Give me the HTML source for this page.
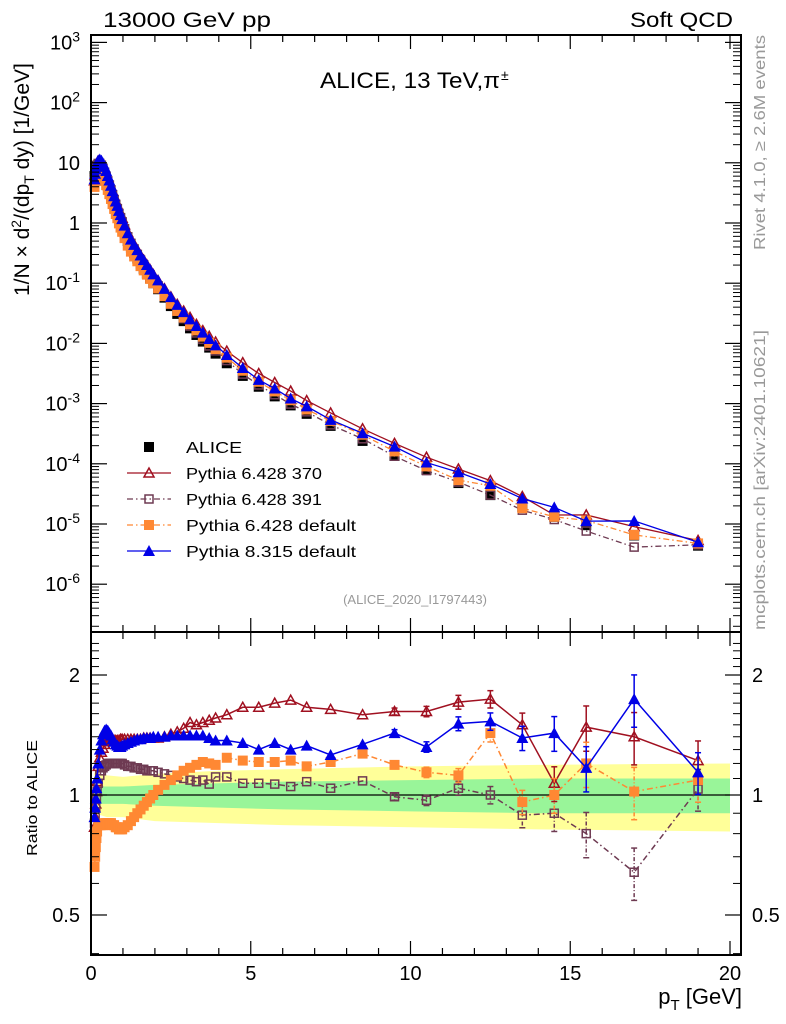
<!DOCTYPE html>
<html><head><meta charset="utf-8"><style>
html,body{margin:0;padding:0;background:#fff;}
svg{display:block;font-family:"Liberation Sans",sans-serif;}
</style></head><body>
<svg id="chart" width="786" height="1024" viewBox="0 0 786 1024" xmlns="http://www.w3.org/2000/svg">
<g id="bands"></g>
<g id="series"></g>
<g id="axes"></g>
<text x="103" y="27" font-size="21" textLength="168" lengthAdjust="spacingAndGlyphs">13000 GeV pp</text>
<text x="630" y="27" font-size="21" textLength="103" lengthAdjust="spacingAndGlyphs">Soft QCD</text>
<text x="320" y="88" font-size="22" textLength="180" lengthAdjust="spacingAndGlyphs">ALICE, 13 TeV,π</text>
<text x="501" y="80" font-size="14">±</text>
<text x="415" y="604" font-size="13" fill="#999" text-anchor="middle">(ALICE_2020_I1797443)</text>
<text transform="translate(765,250) rotate(-90)" font-size="16" fill="#999" textLength="215" lengthAdjust="spacingAndGlyphs">Rivet 4.1.0, ≥ 2.6M events</text>
<text transform="translate(765,630) rotate(-90)" font-size="16" fill="#999" textLength="300" lengthAdjust="spacingAndGlyphs">mcplots.cern.ch [arXiv:2401.10621]</text>
<text transform="translate(29,296) rotate(-90)" font-size="21">1/N × d<tspan font-size="14" dy="-8">2</tspan><tspan dy="8">/(dp</tspan><tspan font-size="14" dy="5">T</tspan><tspan dy="-5"> dy) [1/GeV]</tspan></text>
<text transform="translate(37,856) rotate(-90)" font-size="15" textLength="116" lengthAdjust="spacingAndGlyphs">Ratio to ALICE</text>
<text x="742" y="1004" font-size="22" text-anchor="end">p<tspan font-size="15" dy="6">T</tspan><tspan dy="-6"> [GeV]</tspan></text>
<g id="legend"></g>
</svg>
<script>
const pT=[0.11,0.13,0.15,0.17,0.19,0.225,0.275,0.325,0.375,0.425,0.475,0.525,0.575,0.625,0.675,0.725,0.775,0.825,0.875,0.925,0.975,1.05,1.15,1.25,1.35,1.45,1.55,1.65,1.75,1.85,1.95,2.1,2.3,2.5,2.7,2.9,3.1,3.3,3.5,3.7,3.9,4.25,4.75,5.25,5.75,6.25,6.75,7.5,8.5,9.5,10.5,11.5,12.5,13.5,14.5,15.5,17,19];
const aliceLog=[0.78,0.85,0.9,0.93,0.95,0.96,0.94,0.9,0.84,0.77,0.7,0.62,0.55,0.47,0.39,0.31,0.23,0.16,0.08,0.01,-0.06,-0.17,-0.3,-0.41,-0.5,-0.59,-0.68,-0.76,-0.84,-0.92,-1.0,-1.1,-1.24,-1.38,-1.51,-1.63,-1.75,-1.86,-1.97,-2.07,-2.17,-2.33,-2.54,-2.72,-2.88,-3.03,-3.17,-3.37,-3.62,-3.87,-4.1,-4.32,-4.52,-4.72,-4.88,-5.02,-5.19,-5.36];
const r370=[0.83,0.88,0.95,1.02,1.08,1.18,1.24,1.28,1.31,1.34,1.36,1.37,1.38,1.38,1.38,1.37,1.37,1.37,1.37,1.38,1.38,1.38,1.38,1.38,1.38,1.38,1.38,1.39,1.39,1.39,1.39,1.39,1.40,1.42,1.44,1.47,1.52,1.50,1.52,1.54,1.56,1.59,1.66,1.66,1.70,1.73,1.66,1.64,1.59,1.62,1.62,1.71,1.74,1.50,1.07,1.48,1.40,1.22];
const r391=[0.85,0.89,0.93,0.98,1.02,1.07,1.12,1.15,1.17,1.18,1.19,1.20,1.20,1.20,1.20,1.20,1.20,1.20,1.20,1.20,1.20,1.19,1.18,1.18,1.17,1.17,1.16,1.16,1.15,1.15,1.15,1.14,1.13,1.12,1.11,1.10,1.09,1.08,1.09,1.065,1.11,1.11,1.07,1.07,1.065,1.05,1.08,1.04,1.085,0.99,0.97,1.04,1.0,0.89,0.90,0.80,0.64,1.035];
const rDef6=[0.66,0.70,0.74,0.78,0.81,0.84,0.84,0.84,0.84,0.85,0.85,0.85,0.85,0.85,0.84,0.84,0.83,0.83,0.82,0.82,0.82,0.83,0.84,0.86,0.88,0.90,0.92,0.94,0.96,0.98,1.00,1.03,1.06,1.09,1.12,1.15,1.17,1.19,1.21,1.20,1.19,1.24,1.22,1.21,1.21,1.22,1.18,1.21,1.27,1.19,1.14,1.12,1.43,0.96,1.0,1.2,1.02,1.09];
const r8=[0.88,0.93,0.98,1.04,1.10,1.2,1.3,1.37,1.42,1.45,1.46,1.45,1.43,1.41,1.38,1.36,1.34,1.33,1.32,1.32,1.33,1.34,1.35,1.36,1.37,1.38,1.38,1.39,1.39,1.39,1.40,1.40,1.40,1.41,1.41,1.41,1.41,1.41,1.41,1.39,1.37,1.37,1.35,1.30,1.35,1.30,1.33,1.26,1.34,1.43,1.32,1.51,1.53,1.39,1.43,1.17,1.74,1.14];
const eHigh=[0.02,0.03,0.04,0.05,0.07,0.10,0.13,0.15,0.12];
const bandPt=[0.1,0.5,1,2,4,6,10,14,20];
const yUp=[1.14,1.12,1.11,1.13,1.15,1.16,1.18,1.19,1.20];
const yDn=[0.90,0.88,0.88,0.86,0.85,0.84,0.83,0.82,0.81];
const gUp=[1.05,1.05,1.05,1.06,1.07,1.08,1.09,1.10,1.10];
const gDn=[0.95,0.95,0.95,0.94,0.93,0.92,0.91,0.90,0.90];

const NS="http://www.w3.org/2000/svg";
const X0=91,X1=741,TOP=35,MID=632,BOT=955;
const xs=v=>X0+v*31.95;
const ys=lv=>223-lv*60.2;
const yr=r=>795-398.6*Math.log10(r);
function mk(tag,attrs,parent){const e=document.createElementNS(NS,tag);for(const k in attrs)e.setAttribute(k,attrs[k]);parent.appendChild(e);return e;}
const axes=document.getElementById('axes'),series=document.getElementById('series'),bands=document.getElementById('bands');

function band(up,dn,col,name){
  let pts=bandPt.map((p,i)=>xs(p)+','+yr(up[i]));
  pts=pts.concat(bandPt.map((p,i)=>xs(p)+','+yr(dn[i])).reverse());
  const e=mk('polygon',{points:pts.join(' '),fill:col},bands);
  
  
}
band(yUp,yDn,'#ffff99','syst-band');
band(gUp,gDn,'#99f599','stat-band');
const one=mk('line',{x1:X0,x2:xs(20),y1:yr(1),y2:yr(1),stroke:'#000','stroke-width':1.3},bands);



const f1=mk('rect',{x:X0,y:TOP,width:X1-X0,height:MID-TOP,fill:'none',stroke:'#000','stroke-width':2},axes);


const f2=mk('rect',{x:X0,y:MID,width:X1-X0,height:BOT-MID,fill:'none',stroke:'#000','stroke-width':2},axes);



for(let v=0;v<=20.5;v+=1){
  const x=xs(v),L=(v%5===0)?14:7;
  [[TOP,1],[MID,-1],[MID,1],[BOT,-1]].forEach(([y,d])=>mk('line',{x1:x,x2:x,y1:y,y2:y+d*L,stroke:'#000','stroke-width':1.2},axes));
  if(v%5===0){const t=mk('text',{x:x,y:980,'font-size':20,'text-anchor':'middle'},axes);t.textContent=v;
    
    }
}
const decLabels=['10^3','10^2','10','1','10^-1','10^-2','10^-3','10^-4','10^-5','10^-6'];
const decVals=[3,2,1,0,-1,-2,-3,-4,-5,-6];
decVals.forEach((d,i)=>{
  const y=ys(d);
  mk('line',{x1:X0,x2:X0+16,y1:y,y2:y,stroke:'#000','stroke-width':1.2},axes);
  mk('line',{x1:X1,x2:X1-16,y1:y,y2:y,stroke:'#000','stroke-width':1.2},axes);
  for(let m=2;m<=9;m++){const yy=ys(d-1+Math.log10(m));if(yy<MID&&yy>TOP){
    mk('line',{x1:X0,x2:X0+8,y1:yy,y2:yy,stroke:'#000','stroke-width':1},axes);
    mk('line',{x1:X1,x2:X1-8,y1:yy,y2:yy,stroke:'#000','stroke-width':1},axes);}}
  const lab=decLabels[i];const t=mk('text',{x:80,y:y+7,'font-size':20,'text-anchor':'end'},axes);
  
  
  if(lab.indexOf('^')>0){const [b,e]=lab.split('^');
    const s1=mk('tspan',{},t);s1.textContent=b;const s2=mk('tspan',{'font-size':14,dy:-8},t);s2.textContent=e;}
  else t.textContent=lab;
});
const rTicks=[0.5,1,2],rLab=['0.5','1','2'];
rTicks.forEach((r,i)=>{const y=yr(r);
  mk('line',{x1:X0,x2:X0+16,y1:y,y2:y,stroke:'#000','stroke-width':1.2},axes);
  mk('line',{x1:X1,x2:X1-16,y1:y,y2:y,stroke:'#000','stroke-width':1.2},axes);
  const t=mk('text',{x:80,y:y+7,'font-size':20,'text-anchor':'end'},axes);t.textContent=rLab[i];
  
  
  const t2=mk('text',{x:752,y:y+7,'font-size':20},axes);t2.textContent=rLab[i];
  
  
});
for(let r=0.4;r<2.5;r+=0.1){const rr=Math.round(r*10)/10;if([0.5,1,2].includes(rr))continue;const y=yr(rr);if(y<MID||y>BOT)continue;
  mk('line',{x1:X0,x2:X0+8,y1:y,y2:y,stroke:'#000','stroke-width':1},axes);
  mk('line',{x1:X1,x2:X1-8,y1:y,y2:y,stroke:'#000','stroke-width':1},axes);}

function marker(type,x,y,col,g,s){
  s=s||5;
  if(type==='fsq')return mk('rect',{x:x-s,y:y-s,width:2*s,height:2*s,fill:col},g);
  if(type==='osq')return mk('rect',{x:x-s+1,y:y-s+1,width:2*s-2,height:2*s-2,fill:'none',stroke:col,'stroke-width':1.5},g);
  if(type==='ftri')return mk('polygon',{points:`${x},${y-s-1} ${x-s-1},${y+s} ${x+s+1},${y+s}`,fill:col},g);
  if(type==='otri')return mk('polygon',{points:`${x},${y-s} ${x-s},${y+s-1} ${x+s},${y+s-1}`,fill:'none',stroke:col,'stroke-width':1.5},g);
}
const defs=[
  {name:'pythia6-370',r:r370,col:'#a01020',m:'otri',dash:''},
  {name:'pythia6-391',r:r391,col:'#6e3a52',m:'osq',dash:'6,3,1.5,3'},
  {name:'pythia6-default',r:rDef6,col:'#ff8833',m:'fsq',dash:'6,3,1.5,3'},
  {name:'pythia8-default',r:r8,col:'#0000e6',m:'ftri',dash:''}
];
const ga=mk('g',{},series);


pT.forEach((p,i)=>{const e=marker('fsq',xs(p),ys(aliceLog[i]),'#000',ga);
  
  });
defs.forEach(d=>{
  const g=mk('g',{},series);
  
  
  const pts=pT.map((p,i)=>xs(p)+','+ys(aliceLog[i]+Math.log10(d.r[i])));
  const l=mk('polyline',{points:pts.join(' '),fill:'none',stroke:d.col,'stroke-width':1.3,'stroke-dasharray':d.dash},g);
  
  
  pT.forEach((p,i)=>{const e=marker(d.m,xs(p),ys(aliceLog[i]+Math.log10(d.r[i])),d.col,g);
    
    });
  const gr=mk('g',{},series);
  
  
  const rp=pT.map((p,i)=>xs(p)+','+yr(d.r[i]));
  const l2=mk('polyline',{points:rp.join(' '),fill:'none',stroke:d.col,'stroke-width':1.5,'stroke-dasharray':d.dash},gr);
  
  
  const n0=pT.length-eHigh.length;
  eHigh.forEach((e,k)=>{const i=n0+k,x=xs(pT[i]);
    const y1=yr(d.r[i]*(1+e)),y2=yr(d.r[i]*(1-e));
    mk('line',{x1:x,x2:x,y1:y1,y2:y2,stroke:d.col,'stroke-width':1.5,'stroke-dasharray':d.dash?'4,2,1,2':''},gr);
    mk('line',{x1:x-3,x2:x+3,y1:y1,y2:y1,stroke:d.col,'stroke-width':1.5},gr);
    mk('line',{x1:x-3,x2:x+3,y1:y2,y2:y2,stroke:d.col,'stroke-width':1.5},gr);});
  pT.forEach((p,i)=>{const e=marker(d.m,xs(p),yr(d.r[i]),d.col,gr);
    
    });
});
const leg=document.getElementById('legend');
const legItems=[['ALICE','#000','fsq','',56],['Pythia 6.428 370','#a01020','otri','',136],['Pythia 6.428 391','#6e3a52','osq','6,3,1.5,3',136],['Pythia 6.428 default','#ff8833','fsq','6,3,1.5,3',170],['Pythia 8.315 default','#0000e6','ftri','',170]];
legItems.forEach((it,k)=>{const y=447+k*26;
  const g=mk('g',{},leg);
  
  
  if(k>0)mk('line',{x1:127,x2:171,y1:y,y2:y,stroke:it[1],'stroke-width':1.3,'stroke-dasharray':it[3]},g);
  marker(it[2],149,y,it[1],g);
  const t=mk('text',{x:186,y:y+6,'font-size':16,textLength:it[4],lengthAdjust:'spacingAndGlyphs'},g);t.textContent=it[0];});
</script>
</body></html>
